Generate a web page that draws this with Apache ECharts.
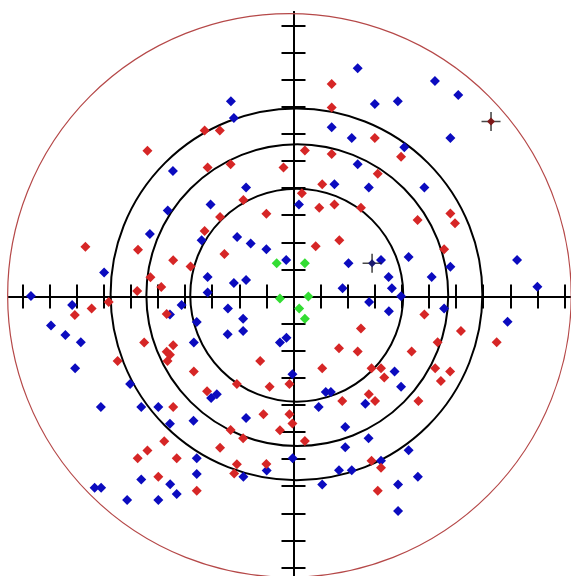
<!DOCTYPE html>
<html>
<head>
<meta charset="utf-8">
<script src="https://cdn.jsdelivr.net/npm/echarts@6/dist/echarts.min.js"></script>
<style>
  html, body { margin: 0; padding: 0; background: #ffffff; }
  #chart { width: 571px; height: 576px; }
</style>
</head>
<body>
<div id="chart"></div>
<script>
// Tick positions along both crosshair axes (one unit per tick)
const tickValues = [-10, -9, -8, -7, -6, -5, -4, -3, -2, -1, 1, 2, 3, 4, 5, 6, 7, 8, 9, 10];

// Reference rings: [centreX, centreY, radius]
const outerRing = [[-0.15, 0.04, 10.4]];
const targetRings = [
  [0.12, 0.05, 3.93],
  [0.14, 0.05, 5.57],
  [0.11, 0.08, 6.86]
];

// Blue group
const bluePoints = [
  [-2.31, 7.21], [-2.20, 6.59], [-4.45, 4.63], [-1.75, 4.02], [-3.06, 3.40],
  [-4.64, 3.17], [-5.30, 2.31], [-3.39, 2.08], [-2.08, 2.20], [-1.58, 1.96],
  [-1.00, 1.74], [-0.27, 1.35], [-6.99, 0.89], [-3.17, 0.72], [-2.20, 0.50],
  [-1.75, 0.61], [-3.17, 0.15], [-9.69, 0.02], [2.37, 8.42], [5.22, 7.95],
  [6.08, 7.44], [3.00, 7.10], [3.85, 7.21], [1.41, 6.25], [2.15, 5.85],
  [5.79, 5.85], [4.09, 5.51], [2.37, 4.88], [1.51, 4.14], [2.78, 4.02],
  [4.83, 4.02], [0.20, 3.40], [2.03, 1.23], [3.23, 1.35], [4.25, 1.46],
  [5.79, 1.10], [8.25, 1.35], [3.51, 0.72], [5.10, 0.72], [1.81, 0.30],
  [3.63, 0.30], [3.97, 0.01], [9.00, 0.36], [-8.17, -0.31], [-8.95, -1.07],
  [-8.42, -1.42], [-7.85, -1.69], [-8.06, -2.65], [-6.03, -3.23], [-7.11, -4.08],
  [-5.62, -4.08], [-4.99, -4.08], [-5.62, -6.75], [-7.34, -7.06], [-7.10, -7.06],
  [-6.14, -7.51], [-4.99, -7.51], [-4.13, -0.31], [-4.56, -0.66], [-3.57, -0.94],
  [-2.42, -0.44], [-1.86, -0.82], [-2.43, -1.39], [-1.86, -1.27], [-0.50, -1.70],
  [-0.26, -1.52], [-3.68, -1.70], [-0.04, -2.87], [-3.04, -3.75], [-2.83, -3.61],
  [-4.56, -4.70], [-3.69, -4.59], [-1.75, -4.48], [-3.57, -5.97], [-0.03, -5.97],
  [-0.99, -6.42], [-1.85, -6.65], [-3.57, -6.55], [-4.55, -6.93], [-4.31, -7.29],
  [2.79, -0.20], [3.52, -0.54], [5.56, -0.44], [7.90, -0.93], [3.73, -2.77],
  [3.97, -3.33], [1.19, -3.52], [1.38, -3.52], [2.65, -3.96], [0.93, -4.08],
  [1.91, -4.82], [2.77, -5.23], [1.91, -5.56], [4.25, -5.67], [3.23, -6.06],
  [1.68, -6.41], [2.15, -6.41], [4.59, -6.65], [1.06, -6.94], [3.86, -6.94],
  [3.86, -7.92]
];

// Red group
const redPoints = [
  [-5.39, 5.38], [-7.68, 1.84], [-5.74, 1.73], [-5.28, 0.71], [-5.77, 0.20],
  [-4.88, 0.35], [-3.28, 6.13], [-2.72, 6.13], [-3.17, 4.76], [-2.32, 4.88],
  [-0.37, 4.76], [-1.85, 3.56], [-1.00, 3.05], [-2.71, 2.93], [-3.28, 2.42],
  [-2.55, 1.57], [-4.44, 1.34], [-3.80, 1.11], [1.41, 7.84], [1.41, 6.98],
  [3.00, 5.85], [3.97, 5.16], [0.42, 5.39], [1.41, 5.26], [3.11, 4.53],
  [1.06, 4.14], [0.31, 3.81], [0.95, 3.28], [1.51, 3.40], [2.49, 3.28],
  [4.58, 2.82], [5.79, 3.06], [5.96, 2.70], [0.82, 1.85], [1.69, 2.08],
  [5.56, 1.74], [-6.82, -0.20], [-7.45, -0.44], [-8.07, -0.68], [-5.51, -1.70],
  [-6.49, -2.38], [-4.68, -0.65], [-4.44, -1.80], [-4.68, -2.04], [-4.56, -2.15],
  [-4.65, -2.38], [-1.23, -2.38], [-3.68, -2.77], [-2.09, -3.23], [-0.88, -3.33],
  [-0.15, -3.23], [-3.19, -3.50], [-4.44, -4.08], [-1.11, -4.35], [-0.15, -4.35],
  [-0.04, -4.69], [-0.50, -4.94], [-2.32, -4.93], [-1.86, -5.23], [-4.77, -5.34],
  [-2.71, -5.58], [-5.39, -5.68], [-5.75, -5.97], [-4.31, -5.97], [-2.09, -6.19],
  [-1.00, -6.18], [-2.19, -6.53], [-4.99, -6.65], [-3.57, -7.17], [0.42, -5.33],
  [4.83, -0.66], [2.49, -1.18], [1.68, -1.91], [2.37, -2.03], [4.36, -2.03],
  [5.32, -1.69], [1.06, -2.65], [2.88, -2.65], [3.23, -2.65], [3.35, -2.99],
  [5.23, -2.65], [5.78, -2.77], [5.44, -3.12], [1.80, -3.86], [2.78, -3.61],
  [3.01, -3.86], [4.61, -3.86], [2.88, -6.06], [3.23, -6.32], [3.11, -7.17],
  [6.18, -1.27], [7.50, -1.69]
];

// Green group
const greenPoints = [
  [-0.62, 1.23], [0.42, 1.23], [-0.50, -0.07], [0.55, 0.00], [0.21, -0.44], [0.42, -0.82]
];

// Marked centres
const redCentre = [[7.29, 6.46]];
const blueCentre = [[2.90, 1.23]];

const AXIS_MIN = -10.5;
const AXIS_MAX = 10.5;
const PLUS_PATH = 'path://M8.25,0h1.5v8.25h8.25v1.5h-8.25v8.25h-1.5v-8.25h-8.25v-1.5h8.25z';

function makeAxis(position, zeroIndex) {
  return {
    type: 'value',
    position: position,
    min: AXIS_MIN,
    max: AXIS_MAX,
    axisLine: { show: true, onZero: true, onZeroAxisIndex: zeroIndex, lineStyle: { color: '#000', width: 2 } },
    axisTick: { show: true, length: 12, customValues: tickValues, lineStyle: { color: '#000', width: 2 } },
    axisLabel: { show: false },
    splitLine: { show: false }
  };
}

function ringSeries(data, color, width) {
  return {
    type: 'custom',
    silent: true,
    z: 1,
    clip: false,
    data: data,
    renderItem: function (params, api) {
      const c = api.coord([api.value(0), api.value(1)]);
      const s = api.size([api.value(2), api.value(2)]);
      return {
        type: 'circle',
        shape: { cx: c[0], cy: c[1], r: s[0] },
        style: { fill: null, stroke: color, lineWidth: width }
      };
    }
  };
}

function dots(data, color, size, z) {
  return {
    type: 'scatter',
    symbol: 'diamond',
    symbolSize: size,
    data: data,
    z: z,
    itemStyle: { color: color, opacity: 1 },
    silent: true
  };
}

const chart = echarts.init(document.getElementById('chart'), null, { renderer: 'canvas' });
chart.setOption({
  backgroundColor: '#ffffff',
  animation: false,
  grid: { left: 9, top: 12, width: 569, height: 569, containLabel: false, outerBoundsMode: 'none' },
  xAxis: [makeAxis('bottom', 0), makeAxis('top', 1)],
  yAxis: [makeAxis('left', 0), makeAxis('right', 1)],
  series: [
    ringSeries(outerRing, '#b54848', 1.2),
    ringSeries(targetRings, '#000000', 2),
    dots(bluePoints, '#0b0bbf', 10, 3),
    dots(redPoints, '#d62626', 10, 3),
    dots(greenPoints, '#33dd33', 10, 3),
    {
      type: 'scatter', symbol: PLUS_PATH, symbolSize: 19, data: redCentre.concat(blueCentre),
      z: 4, silent: true, itemStyle: { color: '#1a1a1a' }
    },
    dots(redCentre, '#7e1818', 8, 5),
    dots(blueCentre, '#1a1a6e', 8, 5)
  ]
});
</script>
</body>
</html>
